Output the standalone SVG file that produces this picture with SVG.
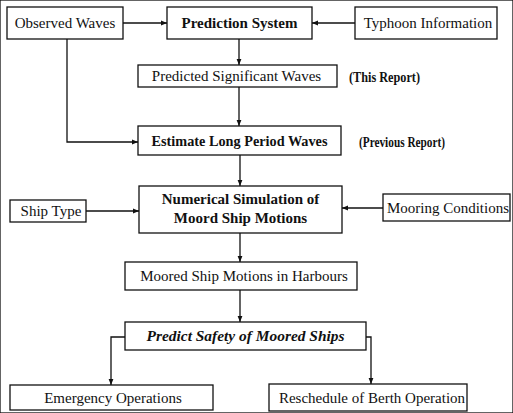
<svg xmlns="http://www.w3.org/2000/svg" width="513" height="413" viewBox="0 0 513 413">
<defs>
<marker id="ah" viewBox="0 0 10 10" refX="10" refY="5" markerWidth="6" markerHeight="6" markerUnits="userSpaceOnUse" orient="auto">
<path d="M0,1 L10,5 L0,9 z" fill="#111"/>
</marker>
<style>
rect{fill:#fff;stroke:#111;stroke-width:1.3}
text{font-family:"Liberation Serif","Times New Roman",serif;font-size:15px;fill:#111;text-anchor:middle}
.b{font-weight:bold}
.bi{font-weight:bold;font-style:italic}
.note{font-weight:bold;font-size:14px;text-anchor:start}
.c line,.c path{stroke:#111;stroke-width:1.3;fill:none}
</style>
</defs>
<rect width="513" height="413" fill="#fff" stroke="none"/>
<g class="c" id="connectors">
<line x1="123" y1="23" x2="167" y2="23" marker-end="url(#ah)"/>
<line x1="355" y1="23" x2="312" y2="23" marker-end="url(#ah)"/>
<line x1="239" y1="39" x2="239" y2="65" marker-end="url(#ah)"/>
<path d="M67,39 V142 H138" marker-end="url(#ah)"/>
<line x1="239" y1="87" x2="239" y2="126" marker-end="url(#ah)"/>
<line x1="240" y1="155" x2="240" y2="186" marker-end="url(#ah)"/>
<line x1="86" y1="211" x2="139" y2="211" marker-end="url(#ah)"/>
<line x1="383" y1="208" x2="342" y2="208" marker-end="url(#ah)"/>
<line x1="240" y1="233" x2="240" y2="262" marker-end="url(#ah)"/>
<line x1="240" y1="290" x2="240" y2="322" marker-end="url(#ah)"/>
<path d="M125,337 H111 V385" marker-end="url(#ah)"/>
<path d="M366,337 H371 V384" marker-end="url(#ah)"/>
</g>
<g id="observed"><rect x="7" y="7" width="116" height="32"/><text x="65" y="28">Observed Waves</text></g>
<g id="prediction"><rect x="167" y="7" width="145" height="32"/><text x="239.5" y="28" class="b">Prediction System</text></g>
<g id="typhoon"><rect x="355" y="7" width="142" height="32"/><text x="428" y="28">Typhoon Information</text></g>
<g id="predicted"><rect x="138" y="65" width="199" height="22"/><text x="236.5" y="81">Predicted Significant Waves</text></g>
<text x="349" y="81.5" class="note" textLength="71" lengthAdjust="spacingAndGlyphs">(This Report)</text>
<g id="estimate"><rect x="138" y="126" width="203" height="29"/><text x="239.5" y="146" class="b" textLength="176" lengthAdjust="spacingAndGlyphs">Estimate Long Period Waves</text></g>
<text x="359" y="146.5" class="note" textLength="86" lengthAdjust="spacingAndGlyphs">(Previous Report)</text>
<g id="numerical"><rect x="139" y="186" width="203" height="47"/><text x="240.5" y="204" class="b">Numerical Simulation of</text><text x="240.5" y="223" class="b">Moord Ship Motions</text></g>
<g id="shiptype"><rect x="10" y="200" width="76" height="22"/><text x="51" y="216">Ship Type</text></g>
<g id="mooring"><rect x="383" y="194" width="127" height="27"/><text x="448" y="212.5">Mooring Conditions</text></g>
<g id="moored"><rect x="125" y="262" width="232" height="28"/><text x="244" y="281">Moored Ship Motions in Harbours</text></g>
<g id="safety"><rect x="125" y="322" width="241" height="28"/><text x="245.5" y="341" class="bi" textLength="198" lengthAdjust="spacingAndGlyphs">Predict Safety of Moored Ships</text></g>
<g id="emergency"><rect x="10" y="385" width="203" height="25"/><text x="113" y="402.5">Emergency Operations</text></g>
<g id="reschedule"><rect x="269" y="384" width="198" height="27"/><text x="372" y="402.5">Reschedule of Berth Operation</text></g>
</svg>
